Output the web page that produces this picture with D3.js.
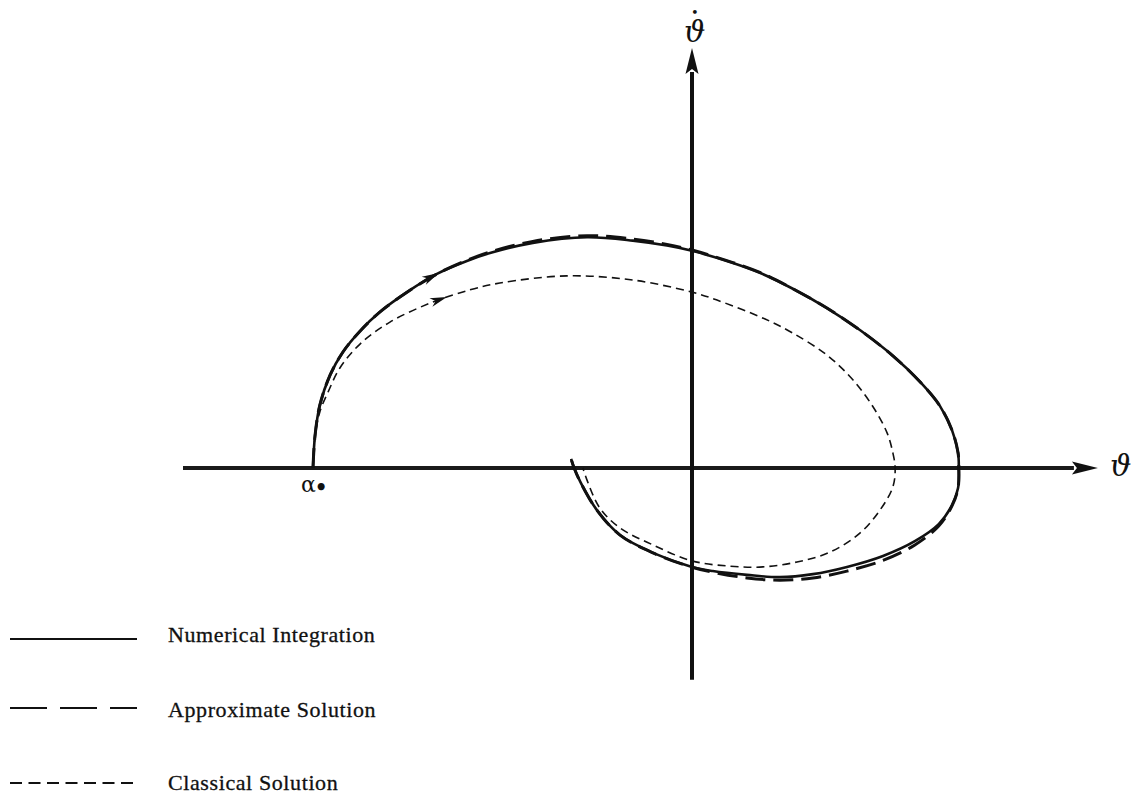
<!DOCTYPE html>
<html>
<head>
<meta charset="utf-8">
<script src="https://cdn.jsdelivr.net/npm/d3@7"></script>
<style>
  body { margin: 0; background: #fff; }
  svg { display: block; }
</style>
</head>
<body>
<svg id="chart" width="1135" height="798"></svg>
<script>
// Phase-plane trajectories (theta, theta-dot), traced clockwise from alpha0.
const numericalTheta = [-1.000, -0.995, -0.982, -0.955, -0.921, -0.876, -0.823, -0.752, -0.673, -0.594,
  -0.533, -0.420, -0.277, -0.156, -0.066, 0.000, 0.108, 0.179, 0.266, 0.356,
  0.443, 0.530, 0.602, 0.654, 0.686, 0.702, 0.704, 0.702, 0.686, 0.651,
  0.588, 0.504, 0.409, 0.319, 0.232, 0.145, 0.055, 0.000, -0.103, -0.190,
  -0.251, -0.293, -0.311, -0.319];
const numericalThetaDot = [0.000, 0.082, 0.166, 0.245, 0.306, 0.361, 0.412, 0.464, 0.512, 0.546,
  0.567, 0.594, 0.609, 0.600, 0.587, 0.573, 0.541, 0.515, 0.473, 0.422,
  0.364, 0.296, 0.227, 0.164, 0.100, 0.040, 0.000, -0.053, -0.098, -0.148,
  -0.193, -0.232, -0.261, -0.280, -0.288, -0.282, -0.272, -0.261, -0.224, -0.177,
  -0.111, -0.040, 0.000, 0.024];

const approximateTheta = numericalTheta.slice();
const approximateThetaDot = [0.000, 0.082, 0.166, 0.245, 0.306, 0.361, 0.412, 0.464, 0.512, 0.548,
  0.570, 0.598, 0.613, 0.604, 0.590, 0.575, 0.542, 0.516, 0.473, 0.422,
  0.364, 0.296, 0.227, 0.164, 0.100, 0.040, 0.000, -0.053, -0.100, -0.153,
  -0.203, -0.244, -0.272, -0.290, -0.296, -0.290, -0.275, -0.262, -0.224, -0.177,
  -0.111, -0.040, 0.000, 0.024];

const classicalTheta = [-1.000, -0.995, -0.982, -0.960, -0.929, -0.876, -0.797, -0.691, -0.586, -0.507,
  -0.330, -0.156, 0.000, 0.066, 0.193, 0.266, 0.356, 0.425, 0.478, 0.515,
  0.530, 0.536, 0.530, 0.496, 0.443, 0.364, 0.277, 0.187, 0.100, 0.000,
  -0.103, -0.190, -0.243, -0.277, -0.288];
const classicalThetaDot = [0.000, 0.082, 0.148, 0.201, 0.264, 0.327, 0.385, 0.435, 0.470, 0.488,
  0.507, 0.496, 0.464, 0.443, 0.393, 0.356, 0.298, 0.232, 0.161, 0.092,
  0.040, 0.000, -0.050, -0.111, -0.172, -0.222, -0.248, -0.261, -0.259, -0.245,
  -0.203, -0.158, -0.106, -0.032, 0.000];

// Direction arrows: theta at which each arrow tip sits on the upper branch.
const arrowSeries = ["numerical", "classical"];
const arrowTheta = [-0.668, -0.646];

// Axis extents (theta along the horizontal, theta-dot along the vertical).
const thetaAxisExtent = [-1.343, 1.071];
const thetaDotAxisExtent = [-0.559, 1.108];

const legendLabels = ["Numerical Integration", "Approximate Solution", "Classical Solution"];
const legendKeys = ["numerical", "approximate", "classical"];

const svg = d3.select("#chart");
const ink = "#111";

const x = d3.scaleLinear().domain([-1, 0]).range([313, 692]);
const y = d3.scaleLinear().domain([0, 1]).range([468, 89]);

const styles = {
  numerical:   { width: 2.6, dash: null },
  approximate: { width: 3.0, dash: "20 8" },
  classical:   { width: 1.6, dash: "8 5" }
};

// ---- axes ----
const axes = svg.append("g");
const headLen = 26, headHalf = 6.5;
// horizontal theta axis
axes.append("line")
  .attr("x1", x(thetaAxisExtent[0])).attr("y1", y(0))
  .attr("x2", x(thetaAxisExtent[1]) - headLen + 2).attr("y2", y(0))
  .attr("stroke", "#1a1a1a").attr("stroke-width", 4);
axes.append("path")
  .attr("d", () => {
    const tx = x(thetaAxisExtent[1]), ty = y(0);
    return `M${tx},${ty} L${tx - headLen},${ty - headHalf} L${tx - headLen + 5},${ty} L${tx - headLen},${ty + headHalf} Z`;
  })
  .attr("fill", "#111");
// vertical theta-dot axis
axes.append("line")
  .attr("x1", x(0)).attr("y1", y(thetaDotAxisExtent[0]))
  .attr("x2", x(0)).attr("y2", y(thetaDotAxisExtent[1]) + headLen - 2)
  .attr("stroke", "#111").attr("stroke-width", 4);
axes.append("path")
  .attr("d", () => {
    const tx = x(0), ty = y(thetaDotAxisExtent[1]);
    return `M${tx},${ty} L${tx - headHalf},${ty + headLen} L${tx},${ty + headLen - 5} L${tx + headHalf},${ty + headLen} Z`;
  })
  .attr("fill", "#111");

// axis labels
axes.append("text")
  .attr("x", x(thetaAxisExtent[1]) + 12).attr("y", y(0) + 8)
  .attr("font-family", "DejaVu Serif").attr("font-style", "italic")
  .attr("font-size", 30).attr("fill", ink)
  .text("ϑ");
// theta-dot: theta with a dot set above it
const topLabel = axes.append("text")
  .attr("x", x(0) - 8).attr("y", y(thetaDotAxisExtent[1]) - 6)
  .attr("font-family", "DejaVu Serif").attr("font-style", "italic")
  .attr("font-size", 30).attr("fill", ink);
topLabel.append("tspan").text("ϑ");
topLabel.append("tspan")
  .attr("x", x(0) - 1).attr("dy", -25)
  .attr("font-style", "normal").attr("font-size", 13)
  .text("•");

// alpha0 marker label
const a0 = axes.append("text")
  .attr("x", x(-1) - 12).attr("y", y(0) + 24)
  .attr("font-family", "DejaVu Serif")
  .attr("font-size", 22).attr("fill", ink);
a0.append("tspan").text("α");
a0.append("tspan").attr("font-size", 20).attr("font-weight", "bold").attr("dy", 2).attr("dx", -1).text("•");

// ---- trajectories ----
const line = d3.line()
  .x(d => x(d[0])).y(d => y(d[1]))
  .curve(d3.curveCatmullRom.alpha(0.5));

const series = {
  numerical: d3.zip(numericalTheta, numericalThetaDot),
  approximate: d3.zip(approximateTheta, approximateThetaDot),
  classical: d3.zip(classicalTheta, classicalThetaDot)
};

const curves = svg.append("g").attr("fill", "none").attr("stroke", ink)
  .attr("stroke-linecap", "butt").attr("stroke-linejoin", "round");
const pathNodes = {};
["classical", "approximate", "numerical"].forEach(key => {
  const p = curves.append("path")
    .attr("d", line(series[key]))
    .attr("stroke-width", styles[key].width)
    .attr("stroke-dasharray", styles[key].dash);
  pathNodes[key] = p.node();
});

// direction arrowheads placed on the upper branch of each curve
arrowSeries.forEach((key, i) => {
  const node = pathNodes[key];
  const total = node.getTotalLength();
  const targetX = x(arrowTheta[i]);
  let best = 0, bestDist = Infinity;
  for (let s = 0; s < total * 0.35; s += 0.5) {
    const pt = node.getPointAtLength(s);
    const dd = Math.abs(pt.x - targetX);
    if (dd < bestDist) { bestDist = dd; best = s; }
  }
  const tip = node.getPointAtLength(best);
  const back = node.getPointAtLength(Math.max(0, best - 6));
  const ang = Math.atan2(tip.y - back.y, tip.x - back.x) * 180 / Math.PI;
  svg.append("path")
    .attr("d", "M0,0 L-17,-4.5 L-12,0 L-17,4.5 Z")
    .attr("transform", `translate(${tip.x},${tip.y}) rotate(${ang})`)
    .attr("fill", ink);
});

// ---- legend ----
const legendY = [639, 708, 783];
const legendTextY = [642, 717, 790];
const legend = svg.append("g");
legendKeys.forEach((key, i) => {
  legend.append("line")
    .attr("x1", 10).attr("x2", 137)
    .attr("y1", legendY[i]).attr("y2", legendY[i])
    .attr("stroke", ink)
    .attr("stroke-width", key === "classical" ? 1.8 : 2.2)
    .attr("stroke-dasharray", key === "numerical" ? null : (key === "approximate" ? "37 13" : "12 6.5"));
  legend.append("text")
    .attr("x", 168).attr("y", legendTextY[i])
    .attr("font-family", "Liberation Serif")
    .attr("font-size", 22)
    .attr("letter-spacing", 0.6)
    .attr("fill", "#111")
    .attr("stroke", "#111").attr("stroke-width", 0.3)
    .text(legendLabels[i]);
});
</script>
</body>
</html>
